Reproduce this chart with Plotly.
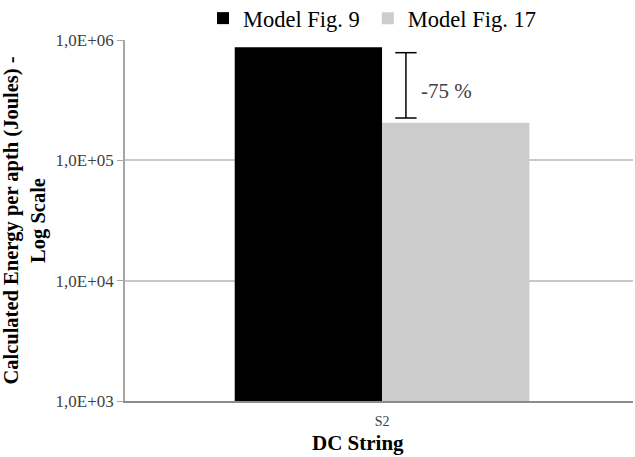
import plotly.graph_objects as go
import numpy as np

categories = ["S2"]
series_names = ["Model Fig. 9", "Model Fig. 17"]
values_fig9 = [8.7e5]
values_fig17 = [2.05e5]
colors = ["#000000", "#cccccc"]
tick_vals = [1e3, 1e4, 1e5, 1e6]
tick_text = ["1,0E+03", "1,0E+04", "1,0E+05", "1,0E+06"]
diff_label = "-75 %"
x_title = "DC String"
y_title = "Calculated Energy per apth (Joules) -<br>Log Scale"

serif = "Liberation Serif, Times New Roman, serif"

fig = go.Figure()
fig.add_trace(go.Bar(x=categories, y=values_fig9, name=series_names[0], legend="legend",
                     marker=dict(color=colors[0], line=dict(width=0))))
fig.add_trace(go.Bar(x=categories, y=values_fig17, name=series_names[1], legend="legend2",
                     marker=dict(color=colors[1], line=dict(width=0))))

# bracket showing the reduction
top_log = np.log10(values_fig9[0]) - 0.045
bot_log = np.log10(values_fig17[0]) + 0.04
top = 10 ** top_log
bot = 10 ** bot_log
xb = 0.047
cap = 0.021
line_style = dict(color="#000000", width=1.5)
fig.add_shape(type="line", x0=xb, x1=xb, y0=top, y1=bot, xref="x", yref="y", line=line_style)
fig.add_shape(type="line", x0=xb - cap, x1=xb + cap, y0=top, y1=top, xref="x", yref="y", line=line_style)
fig.add_shape(type="line", x0=xb - cap, x1=xb + cap, y0=bot, y1=bot, xref="x", yref="y", line=line_style)
fig.add_annotation(x=xb + 0.025, y=(top_log + bot_log) / 2, xref="x", yref="y", text=diff_label,
                   showarrow=False, xanchor="left", yanchor="middle", yshift=-6,
                   font=dict(family=serif, size=21, color="#404040"))

# x axis title (slightly left of centre, as in the original)
fig.add_annotation(x=0.459, y=-0.116, xref="paper", yref="paper", text="<b>%s</b>" % x_title,
                   showarrow=False, xanchor="center", yanchor="middle",
                   font=dict(family=serif, size=21, color="#000000"))

legend_common = dict(orientation="h", y=1.0, yanchor="bottom",
                     font=dict(family=serif, size=22.5, color="#000000"),
                     itemwidth=30, bgcolor="rgba(0,0,0,0)")

fig.update_layout(
    width=635, height=457,
    margin=dict(l=125, r=2, t=40, b=56, autoexpand=False),
    paper_bgcolor="white", plot_bgcolor="white",
    barmode="group", bargap=0.42, bargroupgap=0,
    font=dict(family=serif, color="#000000"),
    legend=dict(x=0.1535, xanchor="left", **legend_common),
    legend2=dict(x=0.478, xanchor="left", **legend_common),
    showlegend=True,
)
fig.update_yaxes(
    type="log", range=[3, 6],
    tickvals=tick_vals, ticktext=tick_text,
    tickfont=dict(family=serif, size=17, color="#404040"),
    ticks="outside", ticklen=6, tickcolor="#a6a6a6",
    showgrid=True, gridcolor="#c8c8c8", gridwidth=1.5,
    showline=True, linecolor="#a6a6a6", linewidth=1.5,
    zeroline=False,
    title=dict(text="<b>%s</b>" % y_title,
               font=dict(family=serif, size=20.5, color="#000000"), standoff=7),
)
fig.update_xaxes(
    range=[-0.506, 0.494],
    showline=True, linecolor="#8c8c8c", linewidth=2,
    tickfont=dict(family=serif, size=14, color="#404040"),
    ticks="", showgrid=False, ticklabelstandoff=6,
)

fig.write_html("out.html")
